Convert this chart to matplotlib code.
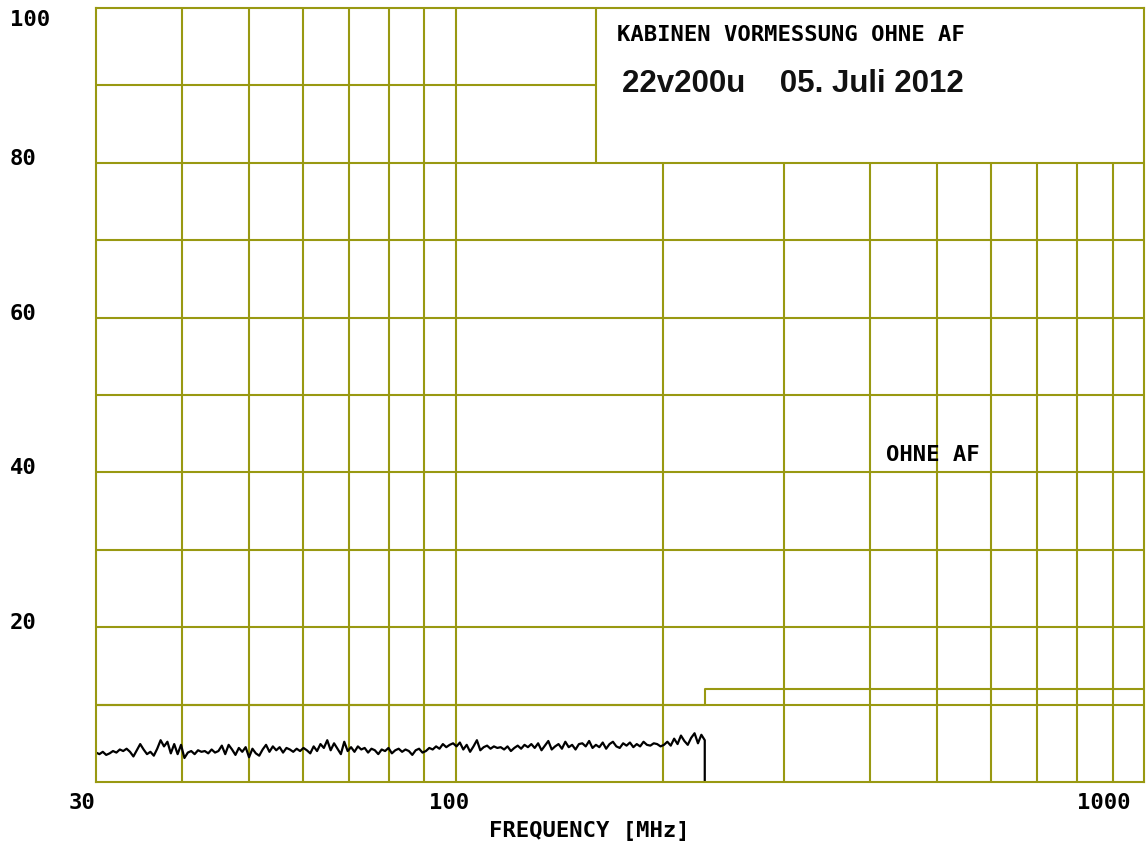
import matplotlib.pyplot as plt
import numpy as np

level = [3.8, 3.6, 3.9, 3.5, 3.7, 4.0, 3.8, 4.2, 4.0, 4.3, 3.9, 3.3, 4.1, 4.9, 4.2, 3.6, 3.9, 3.4, 4.3, 5.4,
         4.6, 5.2, 3.7, 4.9, 3.6, 4.8,
         3.1, 3.8, 4.0, 3.6, 4.1, 3.9, 4.0, 3.7, 4.2, 3.8, 4.0, 4.7, 3.6, 4.8, 4.2, 3.5, 4.4, 3.9, 4.5,
         3.2, 4.3, 3.7, 3.4, 4.2, 4.8, 3.9, 4.6, 4.1, 4.5, 3.8, 4.4, 4.2, 3.9, 4.3, 4.0, 4.4,
         4.1, 3.7, 4.6, 4.0, 4.9, 4.4, 5.4, 4.1, 5.0, 4.3, 3.6, 5.2, 4.0, 4.5,
         3.9, 4.6, 4.2, 4.4, 3.8, 4.3, 4.1, 3.6, 4.2, 4.0, 4.4, 3.7,
         4.1, 4.3, 3.9, 4.2, 4.0, 3.5, 4.1, 4.3, 3.8, 4.0,
         4.4, 4.2, 4.6, 4.3, 4.9, 4.5, 4.8, 5.0, 4.6,
         5.1, 4.2, 4.8, 3.9, 4.6, 5.4, 4.1, 4.5, 4.7, 4.3, 4.6, 4.4, 4.5, 4.2, 4.6, 4.0, 4.4, 4.7, 4.3, 4.8,
         4.5, 4.9, 4.4, 5.0, 4.1, 4.7, 5.3, 4.2, 4.6, 4.9, 4.3, 5.2, 4.5, 4.8, 4.2, 4.9, 5.0, 4.6, 5.3, 4.4,
         4.8, 4.5, 5.1, 4.3, 4.9, 5.2, 4.6, 4.4, 5.0, 4.7, 5.1, 4.5, 4.9, 4.6, 5.2, 4.8, 4.7, 5.0, 4.9, 4.6,
         4.8,
         5.2, 4.7, 5.6, 4.9, 6.0, 5.3, 4.8, 5.7, 6.3, 5.0, 6.1, 5.4]
f_start = 30
f_stop = 230

# limit line (step at 230 MHz)
limit_freq = [30, 230, 230, 1000]
limit_level = [10, 10, 12, 12]

y_ticks = [20, 40, 60, 80, 100]
x_ticks = [30, 100, 1000]
x_tick_labels = ['30', '100', '1000']

title = 'KABINEN VORMESSUNG OHNE AF'
subtitle = '22v200u    05. Juli 2012'
trace_label = 'OHNE AF'

W, H = 1146, 841
olive = '#999912'
pixfont = dict(family='DejaVu Sans Mono', weight='bold', size=16, color='black')

fig = plt.figure(figsize=(W / 100, H / 100), dpi=100)
fig.patch.set_facecolor('white')
ax = fig.add_axes([96 / W, (H - 782) / H, (1144 - 96) / W, (782 - 8) / H])
ax.set_xscale('log')
ax.set_xlim(30, 1000)
ax.set_ylim(0, 100)
ax.set_xticks([])
ax.set_yticks([])
ax.minorticks_off()
for s in ax.spines.values():
    s.set_color(olive)
    s.set_linewidth(1.5)

# grid, drawn like the analyser printout
glw = 1.5
ax.hlines([10, 20, 30, 40, 50, 60, 70, 80], 30, 1000, color=olive, lw=glw)
ax.hlines([90], 30, 160, color=olive, lw=glw)
ax.vlines([40, 50, 60, 70, 80, 90, 100], 0, 100, color=olive, lw=glw)
ax.vlines([200, 300, 400, 500, 600, 700, 800, 900], 0, 80, color=olive, lw=glw)
ax.vlines([160], 80, 100, color=olive, lw=glw)

ax.plot(limit_freq, limit_level, color=olive, lw=glw)

freq = np.geomspace(f_start, f_stop, len(level))
ax.plot(list(freq) + [f_stop], level + [0], color='black', lw=1.6)

# texts
def px(x, y):
    return x / W, 1 - y / H

fig.text(*px(617, 35), title, ha='left', va='center', **pixfont)
fig.text(*px(622, 84), subtitle, ha='left', va='center', family='Liberation Sans',
         weight='bold', size=22.5, color='#111111')
fig.text(*px(886, 455), trace_label, ha='left', va='center', **pixfont)

for v in y_ticks:
    ypix = 782 - v * 7.74 - 4
    if v == 100:
        ypix = 20
    fig.text(*px(10, ypix), str(v), ha='left', va='center', **pixfont)

x_lab_pos = [82, 449, 1104]
for xp, lab in zip(x_lab_pos, x_tick_labels):
    fig.text(*px(xp, 803), lab, ha='center', va='center', **pixfont)

fig.text(*px(589, 831), 'FREQUENCY [MHz]', ha='center', va='center', **pixfont)

fig.savefig('out.png', dpi=100, facecolor='white')
